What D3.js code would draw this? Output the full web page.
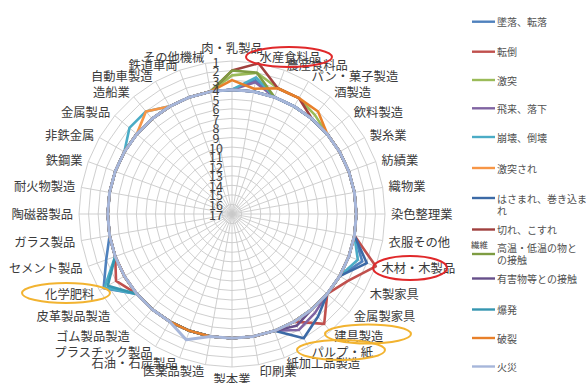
<!DOCTYPE html>
<html><head><meta charset="utf-8">
<script src="https://cdn.jsdelivr.net/npm/d3@7"></script>
<style>body{margin:0;background:#fff}svg{display:block}</style>
</head><body><svg id="c" width="586" height="383"></svg>
<script>
const categories = ["肉・乳製品","水産食料品","農産食料品","パン・菓子製造","酒製造","飲料製造","製糸業","紡績業","織物業","染色整理業","衣服その他","木材・木製品","木製家具","金属製家具","建具製造","パルプ・紙","紙加工品製造","印刷業","製本業","医薬品製造","石油・石炭製品","プラスチック製品","ゴム製品製造","皮革製品製造","化学肥料","セメント製品","ガラス製品","陶磁器製品","耐火物製造","鉄鋼業","非鉄金属","金属製品","造船業","自動車製造","鉄道車両","その他機械"];
const seriesNames = ["墜落、転落","転倒","激突","飛来、落下","崩壊、倒壊","激突され","はさまれ、巻き込まれ","切れ、こすれ","高温・低温の物との接触","有害物等との接触","爆発","破裂","火災"];
const tickLabels = ["1","2","3","4","5","6","7","8","9","10","11","12","13","14","15","16","17"];

const fall      = [4,2.8,4,4,4,4, 4,4,4,4,4,2.5, 4,4,4,4,4,4, 4,4,4,4,4,4, 1.5,3,4,4,4,4, 4,4,4,4,4,4];
const slip      = [4,4,4,4,4,4, 4,4,4,4,4,1, 3,4,2,4,4,4, 4,4,4,4,4,4, 3,4,4,4,4,4, 4,4,4,4,4,4];
const collide   = [2.5,2,3,3,3.5,4, 4,4,4,4,4,4, 4,4,4,4,4,4, 4,4,4,4,4,4, 4,4,4,4,4,4, 4,4,4,4,4,4];
const flying    = [4,3,4,4,4,4, 4,4,4,4,4,4, 4,4,3.5,3,4,4, 4,4,4,4,4,4, 4,4,4,4,4,4, 4,4,4,4,4,4];
const collapse  = [4,2.5,4,4,4,4, 4,4,4,4,4,3, 4,4,4,4,4,4, 4,4,4,4,4,4, 1.6,4,4,4,4,4, 4,3,3,4,4,4];
const struck    = [4,4,4,4,4,4, 4,4,4,4,4,4, 4,4,4,4,4,4, 4,4,4,4,4,4, 4,4,4,4,4,4, 4,4,3,4,4,4];
const caught    = [4,4,4,4,4,4, 4,4,4,4,4,2, 4,4,3,2,4,4, 4,4,4,4,4,4, 4,4,4,4,4,4, 4,4,4,4,4,4];
const cut       = [2,1,3,3,4,4, 4,4,4,4,4,4, 4,4,4,4,4,4, 4,4,4,4,4,4, 4,4,4,4,4,4, 4,4,4,4,4,4];
const temp      = [2,2,4,4,4,4, 4,4,4,4,4,4, 4,4,4,4,4,4, 4,4,4,4,4,4, 4,4,4,4,4,4, 4,4,4,4,4,4];
const harmful   = [4,4,4,4,4,4, 4,4,4,4,4,4, 4,4,4,3.5,4,4, 4,4,4,4,4,4, 4,4,4,4,4,4, 4,4,4,4,4,4];
const explosion = [4,4,4,4,4,4, 4,4,4,4,4,4, 4,4,4,4,4,4, 4,4,4,4,4,4, 2,4,4,4,4,4, 4,4,4,4,4,4];
const rupture   = [3,3.7,3,3,3,4, 4,4,4,4,4,4, 4,4,4,4,4,4, 4,4,4,4,4,4, 4,4,4,4,4,4, 4,4,4,4,4,4];
const fire      = [4,4,4,4,4,4, 4,4,4,4,4,4, 4,4,4,4,4,4, 4,4,3,4,4,4, 4,4,4,4,4,4, 4,4,4,4,4,4];

const seriesValues = [fall,slip,collide,flying,collapse,struck,caught,cut,temp,harmful,explosion,rupture,fire];
const colors = ["#4F81BD","#C0504D","#9BBB59","#8064A2","#4BACC6","#F79646","#3C6AA6","#A0403E","#7E9C42","#664F8A","#3596B0","#E8802A","#A6B6DA"];

const svg = d3.select("#c");
const cx = 232, cy = 214, R = 153;
const n = categories.length;
const rScale = d3.scaleLinear().domain([17, 1]).range([0, R]);
const aScale = d3.scaleLinear().domain([0, n]).range([0, 2 * Math.PI]);
const font = "'Noto Sans CJK JP', 'Noto Sans', sans-serif";

const g = svg.append("g").attr("transform", `translate(${cx},${cy})`);

// grid rings
const ringLine = d3.lineRadial().angle((d, i) => aScale(i)).radius(d => rScale(d)).curve(d3.curveLinearClosed);
const ringVals = d3.range(1, 17);
g.selectAll("path.ring").data(ringVals).join("path")
  .attr("class", "ring")
  .attr("d", v => ringLine(categories.map(() => v)))
  .attr("fill", "none").attr("stroke", "#c9c9c9").attr("stroke-width", 0.9);

// spokes
g.selectAll("line.spoke").data(categories).join("line")
  .attr("x1", 0).attr("y1", 0)
  .attr("x2", (d, i) => rScale(1) * Math.sin(aScale(i)))
  .attr("y2", (d, i) => -rScale(1) * Math.cos(aScale(i)))
  .attr("stroke", "#c9c9c9").attr("stroke-width", 0.9);

// series
const sLine = d3.lineRadial().angle((d, i) => aScale(i)).radius(d => rScale(d)).curve(d3.curveLinearClosed);
g.selectAll("path.series").data(seriesValues).join("path")
  .attr("class", "series")
  .attr("d", d => sLine(d))
  .attr("fill", "none")
  .attr("stroke", (d, i) => colors[i])
  .attr("stroke-width", (d, i) => i === seriesValues.length - 1 ? 3 : 2.6)
  .attr("stroke-linejoin", "round");

// tick labels
g.selectAll("text.tick").data(tickLabels).join("text")
  .attr("x", -16)
  .attr("y", d => -rScale(+d))
  .attr("text-anchor", "middle")
  .attr("dominant-baseline", "central")
  .attr("font-family", font).attr("font-size", 12.5).attr("fill", "#404040")
  .text(d => d);

// category labels
const lr = R + 6;
g.selectAll("text.cat").data(categories).join("text")
  .attr("x", (d, i) => lr * Math.sin(aScale(i)))
  .attr("y", (d, i) => {
    const y = -lr * Math.cos(aScale(i));
    if (i === 0) return y - 7;
    if (i === n / 2) return y + 6;
    return y;
  })
  .attr("text-anchor", (d, i) => {
    const s = Math.sin(aScale(i));
    return s > 0.01 ? "start" : (s < -0.01 ? "end" : "middle");
  })
  .attr("dominant-baseline", "central")
  .attr("font-family", font).attr("font-size", 12.3).attr("fill", "#3a3a3a")
  .text(d => d);

// annotation ellipses
const ellipses = [
  {x: 289, y: 57, rx: 43, ry: 10, c: "#E0282A"},
  {x: 410, y: 268, rx: 37, ry: 12, c: "#E0282A"},
  {x: 66, y: 293, rx: 44, ry: 10, c: "#F2B330"},
  {x: 368, y: 334, rx: 43, ry: 9.5, c: "#F2B330"},
  {x: 341, y: 350, rx: 44, ry: 10, c: "#F2B330"}
];
svg.selectAll("ellipse").data(ellipses).join("ellipse")
  .attr("cx", d => d.x).attr("cy", d => d.y).attr("rx", d => d.rx).attr("ry", d => d.ry)
  .attr("fill", "none").attr("stroke", d => d.c).attr("stroke-width", 2);

// stray text
svg.append("text").attr("x", 471).attr("y", 244).attr("font-family", font).attr("font-size", 8.5)
  .attr("fill", "#404040").attr("dominant-baseline", "central").text("繊維");

// legend
const legendRows = [
  {lines: ["墜落、転落"], y: 21.7},
  {lines: ["転倒"], y: 51.7},
  {lines: ["激突"], y: 80},
  {lines: ["飛来、落下"], y: 108.3},
  {lines: ["崩壊、倒壊"], y: 137},
  {lines: ["激突され"], y: 168},
  {lines: ["はさまれ、巻き込ま", "れ"], y: 198},
  {lines: ["切れ、こすれ"], y: 229.5},
  {lines: ["高温・低温の物と", "の接触"], y: 247, ly: 254},
  {lines: ["有害物等との接触"], y: 278.5},
  {lines: ["爆発"], y: 309.5},
  {lines: ["破裂"], y: 338},
  {lines: ["火災"], y: 366.5}
];
const lg = svg.append("g");
legendRows.forEach((row, i) => {
  const ly = row.ly !== undefined ? row.ly : row.y;
  lg.append("line").attr("x1", 472).attr("x2", 495).attr("y1", ly).attr("y2", ly)
    .attr("stroke", colors[i]).attr("stroke-width", 2.4);
  row.lines.forEach((t, j) => {
    lg.append("text").attr("x", 497).attr("y", row.y + j * 12.5)
      .attr("dominant-baseline", "central")
      .attr("font-family", font).attr("font-size", 10).attr("fill", "#505050")
      .text(t);
  });
});
</script></body></html>
